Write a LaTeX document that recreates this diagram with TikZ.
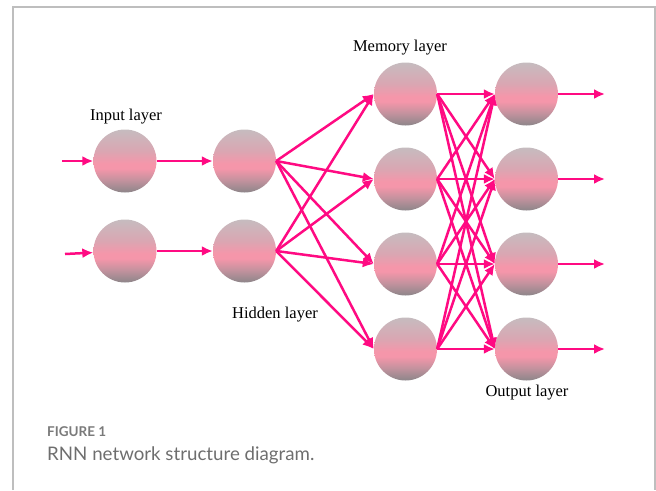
\documentclass[tikz,border=0pt]{standalone}
\usepackage{fontspec}
\setmainfont{Liberation Serif}
\newfontfamily\captionfont{Lato}
\usepackage{xcolor}
\usetikzlibrary{arrows.meta, positioning}
\definecolor{wire}{HTML}{FF0A82}
\definecolor{frame}{HTML}{BEBEBE}
\definecolor{capgray}{HTML}{7A7A7A}
\definecolor{balltop}{RGB}{198,188,191}
\definecolor{ballupper}{RGB}{218,166,178}
\definecolor{ballpink}{RGB}{245,150,170}
\definecolor{balllow}{RGB}{196,146,158}
\definecolor{ballbot}{RGB}{140,134,137}
\pgfdeclareverticalshading{ballshade}{100bp}{%
  color(0bp)=(ballbot); color(25bp)=(ballbot); color(35bp)=(balllow);
  color(44bp)=(ballpink); color(48bp)=(ballpink); color(58bp)=(ballupper);
  color(75bp)=(balltop); color(100bp)=(balltop)}
\tikzset{
  neuron/.style={
    circle, minimum size=63pt, inner sep=0pt,
    shading=ballshade
  },
  layerlabel/.style={font=\fontsize{16.5}{19}\selectfont, inner sep=0pt},
  wirearrow/.style={-{Latex[length=11pt,width=10pt]}, line width=2.5pt, draw=wire},
  border/.style={draw=frame, line width=1.5pt},
}

\begin{document}
\begin{tikzpicture}[x=1pt, y=-1pt]
  \useasboundingbox (0,0) rectangle (656,490);
  \draw[border] (13,490) -- (13,7) -- (655,7) -- (655,490);

  % neurons
  \node[neuron] (in1) at (125,161) {};
  \node[neuron] (in2) at (125,251) {};
  \node[neuron] (hid1) at (244.5,161) {};
  \node[neuron] (hid2) at (244.5,251) {};
  \node[neuron] (mem1) at (405.5,94) {};
  \node[neuron] (mem2) at (405.5,179) {};
  \node[neuron] (mem3) at (405.5,264) {};
  \node[neuron] (mem4) at (405.5,349) {};
  \node[neuron] (out1) at (526.5,94) {};
  \node[neuron] (out2) at (526.5,179) {};
  \node[neuron] (out3) at (526.5,264) {};
  \node[neuron] (out4) at (526.5,349) {};

  % free ends
  \coordinate (src1) at (62,161);
  \coordinate (src2) at (65,254);
  \foreach \i in {1,...,4}
    \coordinate (dst\i) at (605,0 |- out\i);

  % connections
  \draw[wirearrow] (src1) -- (in1);
  \draw[wirearrow] (src2) -- (in2);
  \draw[wirearrow] (in1) -- (hid1);
  \draw[wirearrow] (in2) -- (hid2);
  \foreach \h in {1,2}
    \foreach \m in {1,...,4}
      \draw[wirearrow] (hid\h.east) -- (mem\m.west);
  \foreach \m in {1,...,4}
    \foreach \o in {1,...,4}
      \draw[wirearrow] (mem\m.east) -- (out\o.west);
  \foreach \i in {1,...,4}
    \draw[wirearrow] (out\i) -- (dst\i);

  % labels
  \node[layerlabel] (inlabel) at (126,117) {Input layer};
  \node[layerlabel] (memlabel) at (400,48) {Memory layer};
  \node[layerlabel] (hidlabel) at (275,315) {Hidden layer};
  \node[layerlabel] (outlabel) at (527,393) {Output layer};

  % caption
  \node[anchor=west, inner sep=0pt, text=capgray,
    font=\captionfont\bfseries\fontsize{13.5}{16}\selectfont] (fig) at (47,432) {FIGURE 1};
  \node[anchor=west, inner sep=0pt, text=capgray!90!black,
    font=\captionfont\fontsize{18.7}{22}\selectfont] (cap) at (47,455) {RNN network structure diagram.};
\end{tikzpicture}
\end{document}
